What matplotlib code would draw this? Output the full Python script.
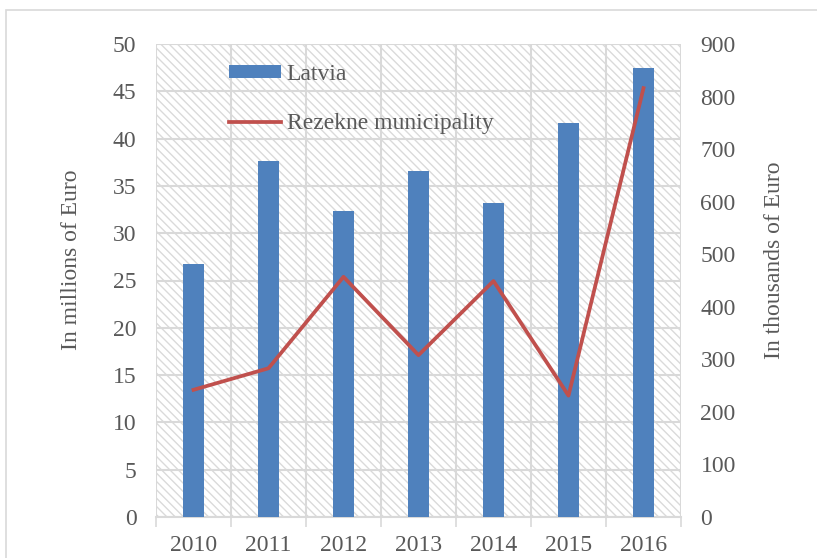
import matplotlib
matplotlib.use("AGG")
from matplotlib import pyplot as plt
from matplotlib.patches import Rectangle, Patch
from matplotlib.lines import Line2D
import numpy as np

years = ["2010", "2011", "2012", "2013", "2014", "2015", "2016"]
# Latvia, millions of Euro (left axis)
latvia = [26.7, 37.6, 32.3, 36.6, 33.2, 41.6, 47.5]
# Rezekne municipality, thousands of Euro (right axis)
rezekne = [242, 283, 457, 308, 449, 231, 816]

plt.rcParams['font.family'] = ['Liberation Serif', 'DejaVu Serif']
plt.rcParams['hatch.color'] = '#dadada'
plt.rcParams['hatch.linewidth'] = 1.0
txt = '#595959'
grid = '#d9d9d9'
fs = 17

fig = plt.figure(figsize=(8.17, 5.58), dpi=100)
# outer chart frame
fig.patches.append(Rectangle((6 / 817, -0.1), 1.2, 1 - 10 / 558 + 0.1,
                             transform=fig.transFigure, fill=False,
                             edgecolor='#d9d9d9', linewidth=1.2))

ax = fig.add_axes([156 / 817, 1 - 517 / 558, 525 / 817, 473 / 558])
x = np.arange(len(years))

# hatched plot area
ax.add_patch(Rectangle((0, 0), 1, 1, transform=ax.transAxes, facecolor='white',
                       hatch='\\\\\\\\', edgecolor='#dadada', linewidth=0, zorder=0))

ax.bar(x, latvia, width=0.29, color='#4f81bd', zorder=3)
ax.set_xlim(-0.5, 6.5)
ax.set_ylim(0, 50)
ax.set_yticks(np.arange(0, 51, 5))
ax.set_xticks(x)
ax.set_xticklabels(years)
ax.set_xticks(np.arange(-0.5, 7, 1), minor=True)
ax.tick_params(axis='x', which='major', length=0, pad=13, labelsize=fs, labelcolor=txt)
ax.tick_params(axis='x', which='minor', length=7, width=1.2, color=grid)
ax.tick_params(axis='y', length=0, pad=14, labelsize=fs, labelcolor=txt)
ax.grid(True, axis='y', color=grid, linewidth=1.5, zorder=1)
ax.grid(True, axis='x', which='minor', color=grid, linewidth=1.5, zorder=1)
ax.set_axisbelow(True)
for s in ['top', 'left', 'right']:
    ax.spines[s].set_visible(False)
ax.spines['bottom'].set_color(grid)
ax.spines['bottom'].set_linewidth(1.5)
ax.set_ylabel("In millions of Euro", fontsize=fs, color=txt)
ax.yaxis.set_label_coords(-0.141, 0.543)

ax2 = ax.twinx()
ax2.plot(x, rezekne, color='#c0504d', linewidth=2.7, zorder=4)
ax2.set_ylim(0, 900)
ax2.set_yticks(np.arange(0, 901, 100))
ax2.tick_params(axis='y', length=0, pad=14, labelsize=fs, labelcolor=txt)
for s in ax2.spines.values():
    s.set_visible(False)
ax2.set_ylabel("In thousands of Euro", fontsize=fs, color=txt)
ax2.yaxis.set_label_coords(1.158, 0.543)

handles = [Patch(facecolor='#4f81bd', edgecolor='none'),
           Line2D([0], [0], color='#c0504d', linewidth=2.7)]
leg = ax2.legend(handles, ["Latvia", "Rezekne municipality"], loc='upper left',
                 bbox_to_anchor=(0.139, 0.958), frameon=False, fontsize=fs,
                 handlelength=2.2, handleheight=0.5, handletextpad=0.25,
                 labelspacing=1.2, borderpad=0, borderaxespad=0)
for t in leg.get_texts():
    t.set_color(txt)

plt.savefig("out.png", dpi=100)
